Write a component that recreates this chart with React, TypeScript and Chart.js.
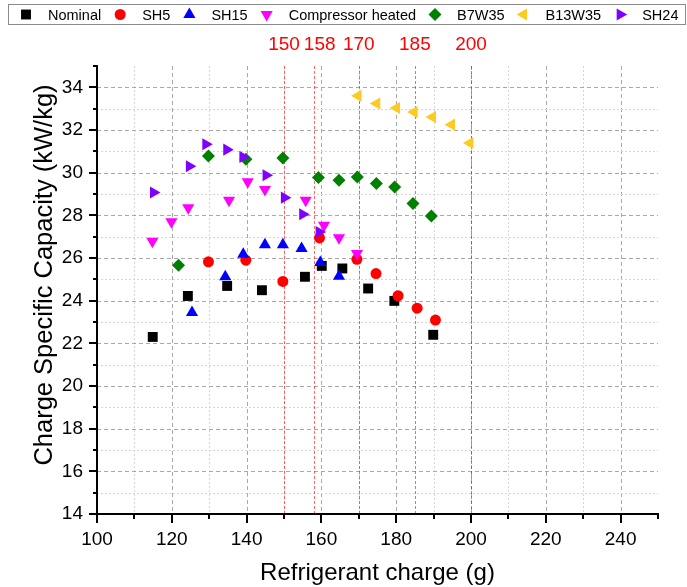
import React, { useEffect, useRef } from 'react';
import { Chart, registerables } from 'chart.js';
import { drawPoint } from 'chart.js/helpers';

Chart.register(...registerables);

// ---- data ----
const nominalX = [114.9, 124.3, 134.8, 144.1, 155.6, 160.1, 165.6, 172.5, 179.5, 189.9];
const nominalY = [22.3, 24.22, 24.69, 24.49, 25.12, 25.63, 25.51, 24.57, 23.99, 22.4];

const sh5X = [129.8, 139.8, 149.7, 159.5, 169.5, 174.6, 180.5, 185.6, 190.5];
const sh5Y = [25.82, 25.9, 24.9, 26.94, 25.94, 25.27, 24.23, 23.65, 23.09];

const sh15X = [125.4, 134.3, 139.1, 144.9, 149.7, 154.7, 159.7, 164.7];
const sh15Y = [23.44, 25.12, 26.18, 26.62, 26.62, 26.44, 25.79, 25.15];

const compX = [114.8, 119.9, 124.4, 135.3, 140.3, 144.9, 155.8, 160.7, 164.7, 169.5];
const compY = [26.79, 27.7, 28.35, 28.71, 29.57, 29.21, 28.71, 27.54, 26.95, 26.21];

const b7X = [121.8, 129.8, 139.8, 149.7, 159.2, 164.7, 169.6, 174.7, 179.6, 184.5, 189.4];
const b7Y = [25.66, 30.78, 30.63, 30.69, 29.77, 29.64, 29.8, 29.49, 29.33, 28.55, 27.97];

const b13X = [169.8, 174.8, 180.1, 184.8, 189.7, 194.8, 199.7];
const b13Y = [33.6, 33.24, 33.03, 32.84, 32.61, 32.25, 31.39];

const sh24X = [115.1, 124.7, 129.1, 134.7, 139.0, 145.2, 150.1, 155.0, 159.4];
const sh24Y = [29.07, 30.3, 31.33, 31.08, 30.74, 29.88, 28.83, 28.05, 27.22];

const seriesNames = ['Nominal', 'SH5', 'SH15', 'Compressor heated', 'B7W35', 'B13W35', 'SH24'];
const refLines = [150, 158, 170, 185, 200];

const xMin = 100;
const xMax = 250;
const xStep = 10;
const xLabelStep = 20;
const xLabelMax = 240;
const yMin = 14;
const yMax = 35;
const yStep = 1;
const yLabelStep = 2;

const xTitle = 'Refrigerant charge (g)';
const yTitle = 'Charge Specific Capacity (kW/kg)';

// ---- styles ----
const FONT = '"Liberation Sans", Arial, sans-serif';
const styles = [
  { color: '#000000', pointStyle: 'rect', radius: 7, rotation: 0 },
  { color: '#ff0000', pointStyle: 'circle', radius: 5.5, rotation: 0 },
  { color: '#0000ff', pointStyle: 'triangle', radius: 7, rotation: 0 },
  { color: '#ff00ff', pointStyle: 'triangle', radius: 7, rotation: 180 },
  { color: '#008000', pointStyle: 'rectRot', radius: 6.5, rotation: 0 },
  { color: '#fccb1f', pointStyle: 'triangle', radius: 7, rotation: -90 },
  { color: '#8000ff', pointStyle: 'triangle', radius: 7, rotation: 90 },
];

const seriesX = [nominalX, sh5X, sh15X, compX, b7X, b13X, sh24X];
const seriesY = [nominalY, sh5Y, sh15Y, compY, b7Y, b13Y, sh24Y];

const decorPlugin = {
  id: 'decor',
  beforeDatasetsDraw(chart: any) {
    const { ctx, chartArea: a, scales } = chart;
    const x = scales.x;
    const y = scales.y;
    ctx.save();
    ctx.lineWidth = 1;
    // vertical grid
    for (let v = xMin + xStep; v < xMax; v += xStep) {
      const px = Math.round(x.getPixelForValue(v)) + 0.5;
      const major = v % xLabelStep === 0;
      ctx.strokeStyle = major ? '#a9a9a9' : '#d6d6d6';
      ctx.setLineDash(major ? [4, 3] : [2, 2]);
      ctx.beginPath();
      ctx.moveTo(px, a.top);
      ctx.lineTo(px, a.bottom);
      ctx.stroke();
    }
    // horizontal grid
    for (let v = yMin + yStep; v < yMax; v += yStep) {
      const py = Math.round(y.getPixelForValue(v)) + 0.5;
      const major = v % yLabelStep === 0;
      ctx.strokeStyle = major ? '#a9a9a9' : '#d6d6d6';
      ctx.setLineDash(major ? [4, 3] : [2, 2]);
      ctx.beginPath();
      ctx.moveTo(a.left, py);
      ctx.lineTo(a.right, py);
      ctx.stroke();
    }
    // reference lines
    ctx.strokeStyle = 'rgba(255,0,0,0.6)';
    ctx.setLineDash([3, 2]);
    refLines.forEach((v) => {
      const px = Math.round(x.getPixelForValue(v)) + 0.5;
      ctx.beginPath();
      ctx.moveTo(px, a.top);
      ctx.lineTo(px, a.bottom);
      ctx.stroke();
    });
    ctx.restore();
  },
  afterDraw(chart: any) {
    const { ctx, chartArea: a, scales } = chart;
    const x = scales.x;
    const y = scales.y;
    ctx.save();
    ctx.setLineDash([]);
    ctx.strokeStyle = '#000';
    ctx.lineWidth = 2;
    // axes
    ctx.beginPath();
    ctx.moveTo(a.left, a.top - 1);
    ctx.lineTo(a.left, a.bottom + 1);
    ctx.moveTo(a.left - 1, a.bottom);
    ctx.lineTo(a.right + 1, a.bottom);
    ctx.stroke();
    // ticks
    ctx.beginPath();
    for (let v = xMin; v <= xMax; v += xStep) {
      const px = Math.round(x.getPixelForValue(v));
      const len = v % xLabelStep === 0 ? 9 : 5;
      ctx.moveTo(px, a.bottom);
      ctx.lineTo(px, a.bottom + len);
    }
    for (let v = yMin; v <= yMax; v += yStep) {
      const py = Math.round(y.getPixelForValue(v));
      const len = v % yLabelStep === 0 ? 8 : 4;
      ctx.moveTo(a.left, py);
      ctx.lineTo(a.left - len, py);
    }
    ctx.stroke();

    // reference labels (shifted right only if they would collide)
    ctx.fillStyle = '#ff0000';
    ctx.font = `19px ${FONT}`;
    ctx.textAlign = 'center';
    ctx.textBaseline = 'middle';
    let prevRight = -Infinity;
    refLines.forEach((v) => {
      const label = String(v);
      const w = ctx.measureText(label).width;
      let cxl = x.getPixelForValue(v);
      if (cxl - w / 2 < prevRight + 4) cxl = prevRight + 4 + w / 2;
      ctx.fillText(label, cxl, a.top - 21);
      prevRight = cxl + w / 2;
    });

    // axis titles
    ctx.fillStyle = '#000';
    ctx.font = `24px ${FONT}`;
    ctx.fillText(xTitle, (a.left + a.right) / 2, a.bottom + 59);
    ctx.save();
    ctx.font = `25.5px ${FONT}`;
    ctx.translate(45, (a.top + a.bottom) / 2 - 15);
    ctx.rotate(-Math.PI / 2);
    ctx.fillText(yTitle, 0, 0);
    ctx.restore();

    // legend
    const boxLeft = 8.5, boxTop = 4.5, boxRight = 685.5, boxBottom = 24.5;
    ctx.strokeStyle = '#8a8a8a';
    ctx.lineWidth = 1;
    ctx.strokeRect(boxLeft, boxTop, boxRight - boxLeft, boxBottom - boxTop);
    ctx.font = `14.5px ${FONT}`;
    ctx.textAlign = 'left';
    let cx = 26;
    const cy = 14.5;
    seriesNames.forEach((name, i) => {
      const st = styles[i];
      ctx.fillStyle = st.color;
      drawPoint(ctx, {
        pointStyle: st.pointStyle as any,
        radius: st.radius,
        rotation: st.rotation,
        borderWidth: 0,
      } as any, cx, cy);
      ctx.fillStyle = '#000';
      const tx = cx + 22;
      ctx.fillText(name, tx, cy + 1);
      cx = tx + ctx.measureText(name).width + 19;
    });
    ctx.restore();
  },
};

export default function App() {
  const ref = useRef<HTMLCanvasElement | null>(null);
  useEffect(() => {
    if (!ref.current) return;
    const datasets = seriesNames.map((name, i) => ({
      label: name,
      data: seriesX[i].map((xv, j) => ({ x: xv, y: seriesY[i][j] })),
      backgroundColor: styles[i].color,
      borderColor: styles[i].color,
      borderWidth: 0,
      pointStyle: styles[i].pointStyle as any,
      pointRadius: styles[i].radius,
      pointHoverRadius: styles[i].radius,
      pointRotation: styles[i].rotation,
      pointBorderWidth: 0,
      showLine: false,
      order: seriesNames.length - i,
    }));
    const chart = new Chart(ref.current, {
      type: 'scatter',
      data: { datasets },
      options: {
        responsive: false,
        animation: false,
        devicePixelRatio: 1,
        layout: { padding: { left: 0, right: 29, top: 66, bottom: 0 } },
        plugins: { legend: { display: false }, tooltip: { enabled: false } },
        scales: {
          x: {
            type: 'linear',
            min: xMin,
            max: xMax,
            afterFit: (s: any) => { s.height = 73; },
            grid: { display: false, drawTicks: false },
            border: { display: false },
            ticks: {
              stepSize: xStep,
              autoSkip: false,
              maxRotation: 0,
              padding: 14,
              color: '#000',
              font: { size: 19, family: FONT },
              callback: (v: any) => (v % xLabelStep === 0 && v <= xLabelMax ? String(v) : ''),
            },
          },
          y: {
            type: 'linear',
            min: yMin,
            max: yMax,
            afterFit: (s: any) => { s.width = 97; },
            grid: { display: false, drawTicks: false },
            border: { display: false },
            ticks: {
              stepSize: yStep,
              autoSkip: false,
              padding: 14,
              color: '#000',
              font: { size: 19, family: FONT },
              callback: (v: any) => (v % yLabelStep === 0 ? String(v) : ''),
            },
          },
        },
      },
      plugins: [decorPlugin],
    });
    return () => chart.destroy();
  }, []);
  return (
    <div style={{ position: 'fixed', left: 0, top: 0, width: 687, height: 587, background: '#fff' }}>
      <canvas ref={ref} width={687} height={587} style={{ display: 'block' }} />
    </div>
  );
}
